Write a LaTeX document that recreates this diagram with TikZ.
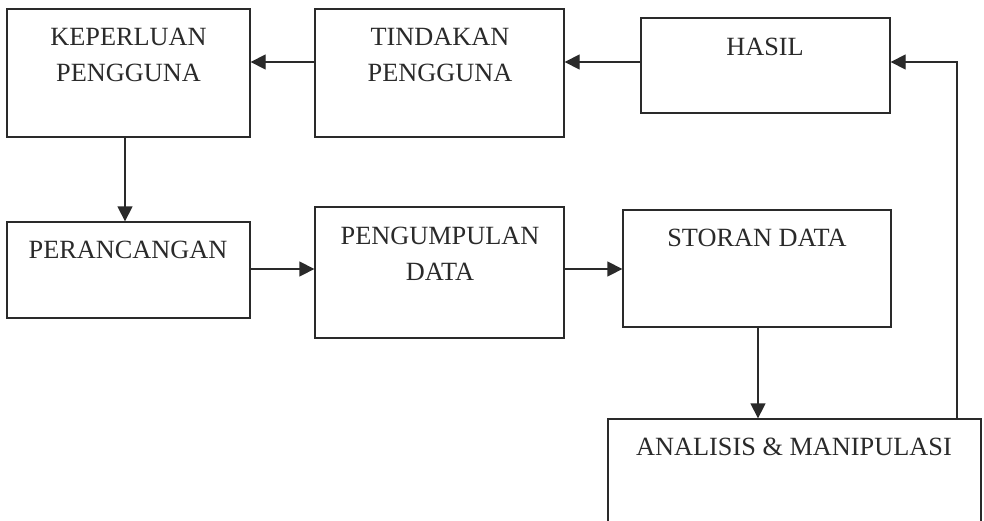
\documentclass[tikz,border=0pt]{standalone}
\usepackage{fontspec}
\setmainfont{Liberation Serif}
\usetikzlibrary{arrows.meta}
\definecolor{ink}{HTML}{2A2A2A}
\begin{document}
\begin{tikzpicture}[x=1pt,y=-1pt,
  box/.style={draw=ink,line width=1.3pt,inner sep=0pt,minimum width=#1},
  lbl/.style={anchor=north,inner sep=0pt,align=center,text=ink,font=\fontsize{26.3}{36.5}\selectfont},
  arr/.style={draw=ink,line width=1.3pt,-{Triangle[length=15pt,width=15pt]}}]
\useasboundingbox[fill=white] (0,0) rectangle (984,520);
\begin{scope}
\clip (0,0) rectangle (984,520);
% boxes
\node[box=243pt,minimum height=128pt] (k) at (128.5,73) {};
\node[box=249pt,minimum height=128pt] (t) at (439.5,73) {};
\node[box=249pt,minimum height=95pt] (h) at (765.5,65.5) {};
\node[box=243pt,minimum height=96pt] (p) at (128.5,270) {};
\node[box=249pt,minimum height=131pt] (g) at (439.5,272.5) {};
\node[box=268pt,minimum height=117pt] (s) at (757,268.5) {};
\node[box=373pt,minimum height=108pt] (a) at (794.5,473) {};
% labels
\node[lbl] (kt) at (128.5,27.5) {KEPERLUAN\\PENGGUNA};
\node[lbl] (tt) at (440,27.5) {TINDAKAN\\PENGGUNA};
\node[lbl] (ht) at (765,37.5) {HASIL};
\node[lbl] (pt) at (128,240.5) {PERANCANGAN};
\node[lbl] (gt) at (440,226.5) {PENGUMPULAN\\DATA};
\node[lbl] (st) at (757,228.5) {STORAN DATA};
\node[lbl] (at) at (794,437.5) {ANALISIS \& MANIPULASI};
% connectors
\draw[arr] (t.west |- 0,62) -- (k.east |- 0,62);
\draw[arr] (h.west |- 0,62) -- (t.east |- 0,62);
\draw[arr] (k.south -| 125,0) -- (p.north -| 125,0);
\draw[arr] (p.east |- 0,269) -- (g.west |- 0,269);
\draw[arr] (g.east |- 0,269) -- (s.west |- 0,269);
\draw[arr] (s.south -| 758,0) -- (a.north -| 758,0);
\draw[arr] (a.north -| 957,0) |- (h.east |- 0,62);
\end{scope}
\end{tikzpicture}
\end{document}
